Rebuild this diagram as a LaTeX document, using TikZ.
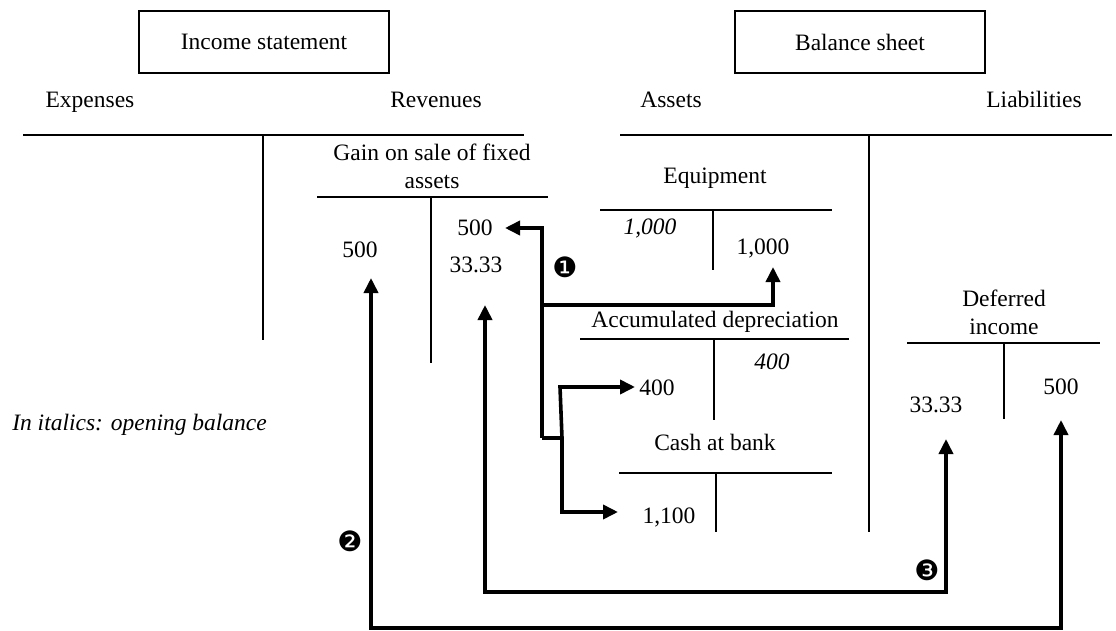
\documentclass[tikz,border=0pt]{standalone}
\usepackage{fontspec}
\setmainfont{Liberation Serif}
\newfontfamily\symfont{DejaVu Sans}
\usetikzlibrary{arrows.meta}
\begin{document}
\begin{tikzpicture}[x=1pt,y=-1pt,
  every node/.style={font=\fontsize{23.5}{28}\selectfont, inner sep=0pt},
  titlebox/.style={draw, line width=1.3pt, minimum width=250pt, minimum height=62pt},
  side/.style={anchor=base},
  rule/.style={line width=1.4pt},
  opening/.style={font=\fontsize{23.5}{28}\selectfont\itshape},
  acctitle/.style={align=center},
  marker/.style={font=\fontsize{28}{28}\selectfont\symfont},
  flow/.style={line width=3.6pt, -{Triangle[length=15pt,width=14pt]}},
  trunk/.style={line width=3.6pt},
  twoway/.style={line width=3.6pt, {Triangle[length=15pt,width=14pt]}-{Triangle[length=15pt,width=14pt]}}
]
\useasboundingbox (0,0) rectangle (1116,631);

% statement headers
\node[titlebox] (inc) at (264,42) {Income statement};
\node[titlebox] (bal) at (860,42) {Balance sheet};
\node[side] (exp) at (90,108) {Expenses};
\node[side] (rev) at (436,108) {Revenues};
\node[side] (ass) at (671,108) {Assets};
\node[side] (lia) at (1034,108) {Liabilities};

% large T of the income statement and of the balance sheet
\draw[rule] (23,135) -- (524,135);
\draw[rule] (263,135) -- (263,340);
\draw[rule] (620,135) -- (1112,135);
\draw[rule] (869,135) -- (869,532);

% gain on sale of fixed assets
\node[acctitle] (gaint) at (432,166) {Gain on sale of fixed\\assets};
\draw[rule] (317,197) -- (548,197);
\draw[rule] (431,197) -- (431,363);
\node (g500l) at (360,250) {500};
\node (g500r) at (475,228) {500};
\node (g33) at (476,265) {33.33};

% equipment
\node (eqt) at (715,178) {Equipment};
\draw[rule] (600,210) -- (832,210);
\draw[rule] (713,210) -- (713,270);
\node[opening] (eqo) at (650,228) {1,000};
\node (eqc) at (763,248) {1,000};

% accumulated depreciation
\node (adt) at (715,322) {Accumulated depreciation};
\draw[rule] (580,339) -- (849,339);
\draw[rule] (714,339) -- (714,420);
\node[opening] (ado) at (772,362) {400};
\node (add) at (657,388) {400};

% cash at bank
\node (cbt) at (715,442) {Cash at bank};
\draw[rule] (619,473) -- (832,473);
\draw[rule] (716,473) -- (716,532);
\node (cbd) at (669,517) {1,100};

% deferred income
\node[acctitle] (dit) at (1004,312) {Deferred\\income};
\draw[rule] (907,343) -- (1100,343);
\draw[rule] (1004,343) -- (1004,419);
\node (did) at (936,405) {33.33};
\node (dic) at (1061,387) {500};

% legend
\node[opening, anchor=east] (legend) at (267,425) {In italics: opening balance};

% transaction 1: sale of the equipment
\coordinate (j1) at (542,438);
\coordinate (j1eq) at (542,305);
\coordinate (j1b) at (562,438);
\coordinate (j1c) at (560,387);
\coordinate (t1gain) at (505,228);
\coordinate (t1eq) at (773,267);
\coordinate (t1ad) at (635,387);
\coordinate (t1cash) at (618,512);
\draw[flow] (j1) |- (t1gain);
\draw[flow] (j1eq) -| (t1eq);
\draw[trunk] (j1) -- (j1b);
\draw[flow] (j1b) -- (j1c) -- (t1ad);
\draw[flow] (j1b) |- (t1cash);
\node[marker] (m1) at (565,267) {❶};

% transaction 2: proceeds deferred
\coordinate (t2gain) at (371,278);
\coordinate (b2) at (1061,628);
\coordinate (t2def) at (1061,420);
\draw[twoway] (t2gain) |- (b2) -- (t2def);
\node[marker] (m2) at (350,541) {❷};

% transaction 3: share released to income
\coordinate (t3gain) at (485,305);
\coordinate (b3) at (946,592);
\coordinate (t3def) at (946,439);
\draw[twoway] (t3gain) |- (b3) -- (t3def);
\node[marker] (m3) at (927,570) {❸};
\end{tikzpicture}
\end{document}
